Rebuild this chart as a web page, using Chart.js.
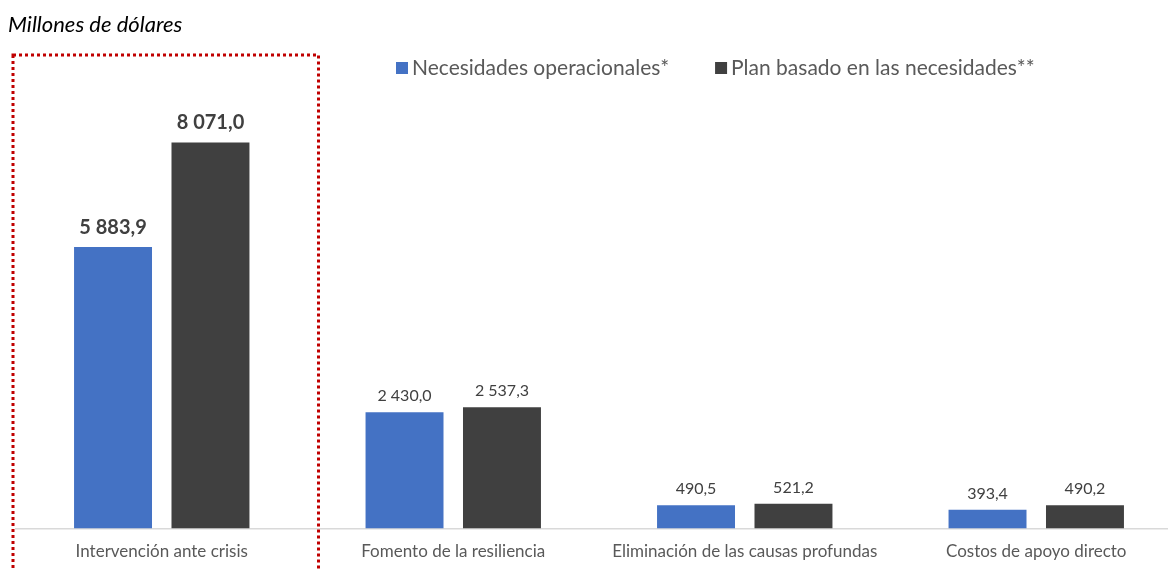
<!DOCTYPE html>
<html>
<head>
<meta charset="utf-8">
<script src="https://cdn.jsdelivr.net/npm/chart.js@4"></script>
<style>
  html, body { margin: 0; padding: 0; background: #fff; overflow: hidden; }
  #wrap { width: 1182px; height: 570px; }
</style>
</head>
<body>
<div id="wrap"><canvas id="grafico"></canvas></div>
<script>
const categorias = ['Intervención ante crisis', 'Fomento de la resiliencia', 'Eliminación de las causas profundas', 'Costos de apoyo directo'];
const necesidades = [5883.9, 2430.0, 490.5, 393.4];
const plan = [8071.0, 2537.3, 521.2, 490.2];
const series = ['Necesidades operacionales*', 'Plan basado en las necesidades**'];
const colores = ['#4472C4', '#404040'];

const FONTE = 'Lato, "Open Sans", sans-serif';

function formatar(v) {
  const partes = v.toFixed(1).split('.');
  const inteiro = partes[0].replace(/\B(?=(\d{3})+(?!\d))/g, ' ');
  return inteiro + ',' + partes[1];
}

// titulo, legenda, rotulos e retangulo pontilhado
const extras = {
  id: 'extras',
  afterDatasetsDraw(chart) {
    const ctx = chart.ctx;
    const x = chart.scales.x;
    ctx.save();

    // rotulos de valor
    chart.data.datasets.forEach((ds, i) => {
      const meta = chart.getDatasetMeta(i);
      meta.data.forEach((bar, j) => {
        const destaque = j === 0;
        ctx.font = (destaque ? 'bold 20px ' : '16px ') + FONTE;
        ctx.fillStyle = '#404040';
        ctx.textAlign = 'center';
        ctx.textBaseline = 'bottom';
        ctx.fillText(formatar(ds.data[j]), bar.x, bar.y - (destaque ? 10 : 8));
      });
    });

    // titulo
    ctx.font = 'italic 22px ' + FONTE;
    ctx.fillStyle = '#000';
    ctx.textAlign = 'left';
    ctx.textBaseline = 'middle';
    ctx.fillText('Millones de dólares', 8, 25);

    // legenda
    ctx.font = '21px ' + FONTE;
    let lx = 396;
    series.forEach((s, i) => {
      ctx.fillStyle = colores[i];
      ctx.fillRect(lx, 62, 12, 12);
      ctx.fillStyle = '#595959';
      ctx.fillText(s, lx + 16, 68);
      lx += 16 + ctx.measureText(s).width + 46;
    });

    // retangulo pontilhado
    const passo = x.getPixelForValue(1) - x.getPixelForValue(0);
    const cx = x.getPixelForValue(0);
    ctx.strokeStyle = '#C00000';
    ctx.lineWidth = 3;
    ctx.setLineDash([3, 3]);
    ctx.strokeRect(cx - passo / 2 - 3, 55, passo + 14, 530);
    ctx.restore();
  }
};

new Chart(document.getElementById('grafico'), {
  type: 'bar',
  data: {
    labels: categorias,
    datasets: [
      { label: series[0], data: necesidades, backgroundColor: colores[0] },
      { label: series[1], data: plan, backgroundColor: colores[1] }
    ]
  },
  options: {
    responsive: true,
    maintainAspectRatio: false,
    animation: false,
    datasets: { bar: { categoryPercentage: 0.6686, barPercentage: 0.8 } },
    layout: { padding: { left: 16, right: 0, top: 98, bottom: 3 } },
    scales: {
      x: {
        grid: { display: false },
        border: { color: '#d9d9d9', width: 1.5 },
        ticks: { color: '#595959', font: { family: FONTE, size: 17 }, padding: 5, maxRotation: 0 }
      },
      y: { display: false, min: 0, max: 9000 }
    },
    plugins: {
      legend: { display: false },
      tooltip: { enabled: false }
    }
  },
  plugins: [extras]
});
</script>
</body>
</html>
